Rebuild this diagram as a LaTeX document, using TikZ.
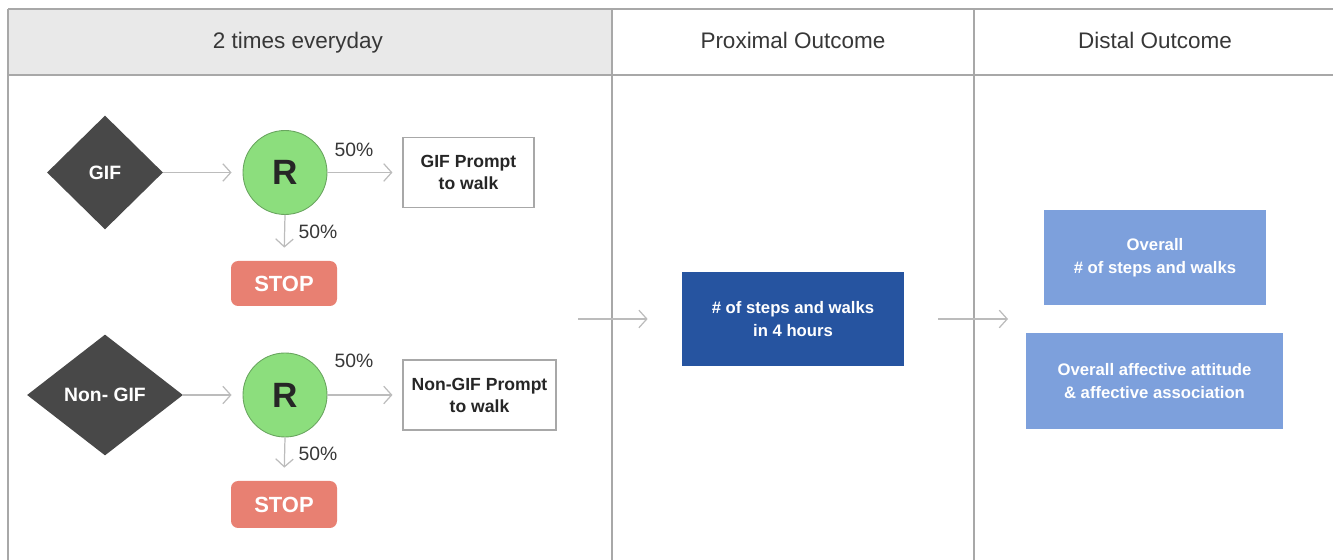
\documentclass[tikz,border=0pt]{standalone}
\usepackage{fontspec}
\setmainfont{Liberation Sans}
\usepackage{tikz}
\usetikzlibrary{shapes.geometric, arrows.meta, positioning, calc}
\definecolor{gridgray}{RGB}{168,168,168}
\definecolor{hdrgray}{RGB}{233,233,233}
\definecolor{arrgray}{RGB}{188,188,188}
\definecolor{txtdark}{RGB}{55,55,55}
\definecolor{diadark}{RGB}{72,72,72}
\definecolor{rgreen}{RGB}{140,222,125}
\definecolor{rgreenb}{RGB}{105,165,95}
\definecolor{stopred}{RGB}{232,128,114}
\definecolor{proxblue}{RGB}{38,84,160}
\definecolor{distblue}{RGB}{125,160,220}
\tikzset{
  header/.style={font=\fontsize{12.8}{15}\selectfont, text=txtdark, text depth=0.25ex},
  armdia/.style={diamond, fill=diadark, text=white, inner sep=0pt,
    font=\bfseries\fontsize{11}{13}\selectfont},
  randnode/.style={circle, fill=rgreen, draw=rgreenb, line width=0.5pt,
    minimum size=1.68cm, inner sep=0pt, font=\fontsize{20}{22}\selectfont, text=black!85},
  prompt/.style={rectangle, draw=gridgray, fill=white, line width=0.6pt,
    minimum height=1.4cm, align=center, font=\bfseries\fontsize{10}{12.5}\selectfont, text=black!85},
  stopbox/.style={rectangle, rounded corners=4pt, fill=stopred, text=white,
    minimum width=2.12cm, font=\fontsize{12.5}{15}\selectfont},
  outbox/.style={rectangle, text=white, align=center,
    font=\bfseries\fontsize{9.5}{13}\selectfont},
  pct/.style={font=\fontsize{11}{13}\selectfont, text=txtdark},
  flow/.style={-{Straight Barb[length=4.5pt, width=10pt]}, color=arrgray, line width=0.7pt}
}
\begin{document}
\begin{tikzpicture}
  \useasboundingbox (0,0) rectangle (26.66,11.2);

  % Table frame
  \fill[hdrgray] (0.16,9.7) rectangle (12.24,11.02);
  \draw[gridgray, line width=0.7pt] (0.16,11.02) -- (26.66,11.02);
  \draw[gridgray, line width=0.7pt] (0.16,9.7) -- (26.66,9.7);
  \foreach \x in {0.16, 12.24, 19.48} {
    \draw[gridgray, line width=0.7pt] (\x,11.02) -- (\x,0);
  }

  % Column headers
  \node[header] (hdrdaily) at (5.96,10.36) {2 times everyday};
  \node[header] (hdrprox) at (15.86,10.36) {Proximal Outcome};
  \node[header] (hdrdist) at (23.1,10.36) {Distal Outcome};

  % GIF arm
  \node[armdia, minimum width=2.32cm, minimum height=2.28cm] (gif) at (2.1,7.75) {GIF};
  \node[randnode] (rgif) at (5.7,7.75) {\textbf{R}};
  \node[prompt, minimum width=2.62cm] (pgif) at (9.37,7.75) {GIF Prompt\\to walk};
  \node[stopbox, minimum height=0.9cm] (sgif) at (5.68,5.53) {\textbf{STOP}};
  \draw[flow, shorten >=0.22cm] (gif.east) -- (rgif.west);
  \draw[flow, shorten >=0.2cm] (rgif.east) -- (pgif.west);
  \draw[flow, shorten >=0.26cm] (rgif.south) -- (sgif.north);
  \node[pct] at (7.08,8.2) {50\%};
  \node[pct] at (6.36,6.56) {50\%};

  % Non-GIF arm
  \node[armdia, minimum width=3.12cm, minimum height=2.42cm] (ngif) at (2.1,3.3) {Non- GIF};
  \node[randnode] (rngif) at (5.7,3.3) {\textbf{R}};
  \node[prompt, minimum width=3.06cm] (pngif) at (9.59,3.3) {Non-GIF Prompt\\to walk};
  \node[stopbox, minimum height=0.94cm] (sngif) at (5.68,1.11) {\textbf{STOP}};
  \draw[flow, shorten >=0.22cm] (ngif.east) -- (rngif.west);
  \draw[flow, shorten >=0.2cm] (rngif.east) -- (pngif.west);
  \draw[flow, shorten >=0.26cm] (rngif.south) -- (sngif.north);
  \node[pct] at (7.08,3.98) {50\%};
  \node[pct] at (6.36,2.12) {50\%};

  % Outcomes
  \node[outbox, fill=proxblue, minimum width=4.44cm, minimum height=1.88cm] (prox) at (15.86,4.82) {\# of steps and walks\\in 4 hours};
  \node[outbox, fill=distblue, minimum width=4.44cm, minimum height=1.9cm] (dsteps) at (23.1,6.05) {Overall\\\# of steps and walks};
  \node[outbox, fill=distblue, minimum width=5.14cm, minimum height=1.92cm] (daffect) at (23.09,3.58) {Overall affective attitude\\\& affective association};

  \coordinate (armsout) at (11.56,4.82);
  \coordinate (distin) at (20.16,4.82);
  \draw[flow, shorten >=0.68cm] (armsout) -- (prox.west);
  \draw[flow, shorten <=0.68cm] (prox.east) -- (distin);
\end{tikzpicture}
\end{document}
